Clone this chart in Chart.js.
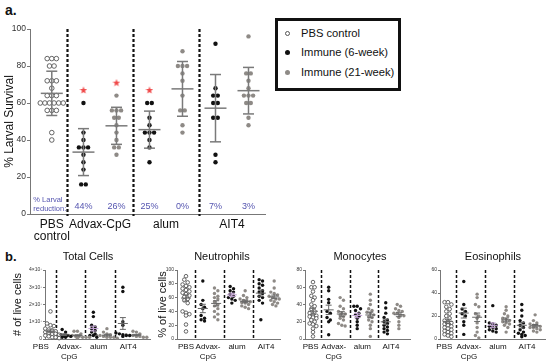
<!DOCTYPE html>
<html><head><meta charset="utf-8">
<script src="https://cdn.jsdelivr.net/npm/chart.js@4.4.1/dist/chart.umd.min.js"></script>
<style>
body{margin:0;width:550px;height:363px;position:relative;background:#fff;font-family:"Liberation Sans",Arial,sans-serif;overflow:hidden}
canvas{position:absolute}
.lbl{position:absolute;white-space:nowrap;color:#111}
.ttl{position:absolute;width:100px;text-align:center;font-size:11px;line-height:13px;color:#111}
#legend{position:absolute;left:275px;top:18px;width:120px;height:67px;border:3px solid #111}
.lrow{position:absolute;left:0;height:14px;font-size:11.2px;line-height:14px;color:#111}
.lrow i{position:absolute;left:7px;top:4.5px;width:5px;height:5px;border-radius:50%;box-sizing:border-box}
.lrow span{position:absolute;left:23px;top:0;white-space:nowrap}
</style></head><body>
<div class="lbl" style="left:5px;top:2px;font-size:14px;font-weight:bold">a.</div>
<div class="lbl" style="left:5px;top:249px;font-size:13px;font-weight:bold">b.</div>
<div id="legend"></div>
<canvas id="ca" width="270" height="262" style="left:0;top:0"></canvas>
<canvas id="cb1" width="155" height="101" style="left:0;top:262px"></canvas>
<canvas id="cb2" width="135" height="101" style="left:150px;top:262px"></canvas>
<canvas id="cb3" width="130" height="101" style="left:285px;top:262px"></canvas>
<canvas id="cb4" width="135" height="101" style="left:415px;top:262px"></canvas>
<script>
// ================= DATA =================
// Panel a: % larval survival
const aCategories = ['PBS\ncontrol', 'Advax-CpG', 'alum', 'AIT4'];
const aYTicks = [0, 20, 40, 60, 80, 100];
const aPBS     = [84,84,84,80,80,72,72,72,68,64,64,64,60,60,60,60,60,60,56,56,56,44,40];
const aAdvax6  = [60,44,40,36,36,36,32,28,24,16,16];
const aAdvax21 = [64,56,56,56,52,52,48,44,40,36,36,32];
const aAlum6   = [60,60,52,48,44,44,44,40,36,28];
const aAlum21  = [88,80,80,80,76,72,64,56,56,48,44];
const aAIT6    = [92,68,64,64,60,60,52,52,32,28];
const aAIT21   = [96,76,76,72,68,64,64,64,60,60,52,48];
const aReduction = ['44%','26%','25%','0%','7%','3%'];
const aReductionLabel = ['% Larval', 'reduction:'];
const aStarGroups = [1, 2, 3];          // group index (Advax 6wk, Advax 21wk, alum 6wk)
const aStarValues = [67, 71, 67];
const legendLabels = ['PBS control', 'Immune (6-week)', 'Immune (21-week)'];

// Panel b
const bTitles = ['Total Cells', 'Neutrophils', 'Monocytes', 'Eosinophils'];
const bCategories = ['PBS', 'Advax-\nCpG', 'alum', 'AIT4'];
const bYTitles = ['# of live cells', '% of live cells', '', ''];
const totalTicks = [0,1,2,3,4];   // ×10^7
const neutTicks = [0,20,40,60,80,100];
const monoTicks = [0,20,40,60,80];
const eosTicks = [0,20,40,60];

const tPBS     = [1.6,0.9,0.8,0.75,0.6,0.55,0.5,0.45,0.4,0.4,0.35,0.3,0.3,0.25,0.2,0.2,0.15,0.1,0.1,0.05];
const tAdvax6  = [0.55,0.4,0.3,0.25,0.2,0.2,0.15,0.1,0.1];
const tAdvax21 = [0.45,0.45,0.3,0.25,0.2,0.2,0.15,0.15,0.1,0.1,0.1,0.05];
const tAlum6   = [1.55,1.3,0.8,0.7,0.6,0.5,0.4,0.3,0.2,0.2,0.1];
const tAlum21  = [0.6,0.4,0.3,0.25,0.2,0.2,0.15,0.1,0.1,0.1,0.05];
const tAIT6    = [3.0,2.75,1.0,0.8,0.35,0.3,0.25,0.2,0.2,0.15];
const tAIT21   = [0.45,0.4,0.3,0.25,0.2,0.2,0.15,0.15,0.1,0.1];

const nPBS     = [91,86,82,79,77,75,73,71,69,67,65,63,61,58,56,52,40,38,36,34,21,11];
const nAdvax6  = [84,56,50,46,44,34,30,28,26];
const nAdvax21 = [74,70,66,62,60,58,54,50,48,44,40,36,32,28];
const nAlum6   = [76,73,70,68,65,62,60,58,56,52];
const nAlum21  = [70,63,60,58,56,55,54,53,52,50,48,46,44];
const nAIT6    = [86,84,80,78,74,70,68,66,62,60,56,52,28];
const nAIT21   = [84,74,68,66,64,62,60,58,58,56,54,52,50,48];

const mPBS     = [66,60,60,55,50,48,45,40,38,35,32,30,28,27,26,25,24,22,20,18,17,15,12,8,3];
const mAdvax6  = [60,56,46,42,32,30,25,22,20,5];
const mAdvax21 = [48,45,38,35,32,30,29,28,26,24,22,18,16,15];
const mAlum6   = [38,38,35,33,30,28,26,24,20,16,12];
const mAlum21  = [52,45,40,35,33,31,30,28,26,25,22,20,16,12,3];
const mAIT6    = [42,36,30,25,22,20,18,16,14,12,10,8,6];
const mAIT21   = [40,38,35,33,32,30,30,28,27,25,20,16,12];

const ePBS     = [32,32,30,28,26,24,22,20,18,16,15,14,13,12,11,10,9,8,7,6,5,4,3,2];
const eAdvax6  = [50,30,26,24,22,20,15,12,4];
const eAdvax21 = [39,36,30,28,22,20,18,14,10,6,3,1];
const eAlum6   = [29,14,13,12,11,10,9,8,7,6];
const eAlum21  = [28,25,22,20,18,17,16,15,14,13,12,10,6];
const eAIT6    = [30,25,20,16,14,12,10,8,6,5,4,3,2];
const eAIT21   = [21,16,14,13,12,12,11,10,10,9,8,7,6];

// ================= RENDERING =================
const FONT = '"Liberation Sans", Arial, sans-serif';
const COL = { pbsFill:'#ffffff', pbsLine:'#555555', w6:'#111111', w21:'#8e8a86', bar:'#7a7a7a', alumBar:'#c4a3d6', red:'#f04848', blue:'#5555b0', axis:'#777777' };
const KINDS = ['pbs','w6','w21','w6','w21','w6','w21'];

// legend + panel b titles
(function(){
  const lg = document.getElementById('legend');
  const tops = [5, 24, 44];
  legendLabels.forEach((t,i) => {
    const r = document.createElement('div'); r.className='lrow'; r.style.top = tops[i]+'px';
    const m = document.createElement('i');
    if (i===0){ m.style.border='1px solid '+COL.pbsLine; m.style.background='#fff'; }
    else m.style.background = i===1 ? COL.w6 : COL.w21;
    const s = document.createElement('span'); s.textContent = t;
    r.appendChild(m); r.appendChild(s); lg.appendChild(r);
  });
  const tc = [88, 222, 360, 493];
  bTitles.forEach((t,i)=>{
    const d=document.createElement('div'); d.className='ttl'; d.textContent=t;
    d.style.left=(tc[i]-50)+'px'; d.style.top='250px'; document.body.appendChild(d);
  });
})();

function swarm(values, cx, xPx, yPx, binPx, spacePx) {
  const sorted = values.slice().sort((a,b)=>b-a);
  const pts = []; let row = [];
  const flush = () => { const n=row.length; row.forEach((v,i)=>pts.push({x: cx + (i-(n-1)/2)*spacePx/xPx, y: v})); row=[]; };
  sorted.forEach(v => { if (row.length && (row[0]-v)*yPx > binPx) flush(); row.push(v); });
  flush();
  return pts;
}
function stats(v){ const n=v.length, m=v.reduce((a,b)=>a+b,0)/n; const sd=Math.sqrt(v.reduce((a,b)=>a+(b-m)*(b-m),0)/(n-1)); return {m, sd, sem: sd/Math.sqrt(n)}; }

function pointDataset(pts, kind, r) {
  const pbs = kind==='pbs';
  return { data: pts, clip:false, pointRadius: r, pointHoverRadius: r,
    backgroundColor: pbs ? COL.pbsFill : (kind==='w6'?COL.w6:COL.w21),
    borderColor: pbs ? COL.pbsLine : (kind==='w6'?COL.w6:COL.w21),
    borderWidth: pbs ? 0.9 : 0 };
}

function decor(c) {
  return {
    id: 'decor_'+c.id,
    beforeDatasetsDraw(chart) {
      const {ctx, scales:{x,y}} = chart;
      ctx.save(); ctx.strokeStyle='#111'; ctx.lineWidth=c.divWidth; ctx.setLineDash(c.divDash);
      c.dividers.forEach(d => { const px=Math.round(x.getPixelForValue(d))+0.5;
        ctx.beginPath(); ctx.moveTo(px, y.getPixelForValue(y.max)); ctx.lineTo(px, y.getPixelForValue(y.min)+c.divExtra); ctx.stroke(); });
      ctx.restore();
    },
    afterDatasetsDraw(chart) {
      const {ctx, scales:{x,y}} = chart;
      ctx.save(); ctx.setLineDash([]);
      c.bars.forEach(b => {
        const px=x.getPixelForValue(b.x), pm=y.getPixelForValue(b.mean), pl=y.getPixelForValue(b.lo), ph=y.getPixelForValue(b.hi);
        ctx.strokeStyle=b.color; ctx.lineWidth=c.barWidth;
        const seg=(x1,y1,x2,y2)=>{ctx.beginPath();ctx.moveTo(x1,y1);ctx.lineTo(x2,y2);ctx.stroke();};
        seg(px-c.barHalf,pm,px+c.barHalf,pm); seg(px,pl,px,ph);
        seg(px-c.capHalf,pl,px+c.capHalf,pl); seg(px-c.capHalf,ph,px+c.capHalf,ph);
      });
      (c.texts||[]).forEach(t => {
        ctx.fillStyle=t.color; ctx.font=t.font; ctx.textAlign=t.align; ctx.textBaseline='middle';
        ctx.fillText(t.text, x.getPixelForValue(t.x), y.getPixelForValue(t.y));
      });
      ctx.restore();
    }
  };
}

function makeChart(c) {
  return new Chart(document.getElementById(c.id), {
    type: 'scatter',
    data: { datasets: c.datasets },
    options: {
      responsive:false, animation:false, devicePixelRatio:1, events:[],
      layout:{ padding:{ top:c.padTop, right:c.padRight, left:0, bottom:0 } },
      plugins:{ legend:{display:false}, tooltip:{enabled:false} },
      scales:{
        x:{ type:'linear', min:0, max:c.xMax,
          afterBuildTicks: s => { s.ticks = c.labelPos.map(v=>({value:v})); },
          afterFit: s => { s.height = c.xHeight; },
          ticks:{ autoSkip:false, maxRotation:0, minRotation:0, padding:c.xPad, color:'#111',
                  font:{family:FONT, size:c.xFont, lineHeight:c.xLH}, callback:(v,i)=>c.labels[i] },
          grid:{ display:false, drawTicks:false, tickLength:0 },
          border:{ display:true, color:c.axisColor, width:1, dash:c.xDash||[] } },
        y:{ type:'linear', min:c.yTicks[0], max:c.yTicks[c.yTicks.length-1],
          afterBuildTicks: s => { s.ticks = c.yTicks.map(v=>({value:v})); },
          afterFit: s => { s.width = c.yWidth; },
          ticks:{ padding:1, color:'#333', font:{family:FONT, size:c.yFont}, callback:c.yFmt },
          grid:{ display:true, drawOnChartArea:false, drawTicks:true, tickLength:c.tickLen, color:c.axisColor },
          border:{ display:true, color:c.axisColor, width:1 },
          title:{ display:!!c.yTitle, text:c.yTitle, color:'#111', font:{family:FONT, size:c.yTitleSize}, padding:{top:c.yTitlePad, bottom:0} } }
      }
    },
    plugins:[decor(c)]
  });
}

// ---- star point image ----
const starImg = document.createElement('canvas'); starImg.width=8; starImg.height=8;
(function(){ const g=starImg.getContext('2d'); g.fillStyle=COL.red; g.beginPath();
  for(let i=0;i<10;i++){ const r=i%2?1.6:4, a=-Math.PI/2+i*Math.PI/5; g.lineTo(4+r*Math.cos(a),4.3+r*Math.sin(a)); }
  g.closePath(); g.fill(); })();

// ---- Panel a ----
(function(){
  const div = [0.56, 1.56, 2.56];
  const series = [aPBS, aAdvax6, aAdvax21, aAlum6, aAlum21, aAIT6, aAIT21];
  const xs = [0.33, div[0]+0.25, div[0]+0.75, div[1]+0.25, div[1]+0.75, div[2]+0.25, div[2]+0.75];
  const datasets = series.map((v,i)=>pointDataset(swarm(v, xs[i], 66, 1.85, 0.5, 4.6), KINDS[i], i===0?2.3:2.2));
  datasets.push({ data: aStarGroups.map((g,i)=>({x:xs[g], y:aStarValues[i]})), clip:false, pointStyle: starImg, pointRadius:4 });
  const bars = series.map((v,i)=>{ const s=stats(v); return {x:xs[i], mean:s.m, lo:s.m-s.sd, hi:s.m+s.sd, color:COL.bar}; });
  const texts = [
    {x:0.05, y:7.6, text:aReductionLabel[0], color:COL.blue, font:'7.5px '+FONT, align:'left'},
    {x:0.05, y:2.6, text:aReductionLabel[1], color:COL.blue, font:'7.5px '+FONT, align:'left'}
  ].concat(aReduction.map((t,i)=>({x:xs[i+1], y:3.8, text:t, color:COL.blue, font:'9px '+FONT, align:'center'})));
  makeChart({ id:'ca', datasets, bars, texts, dividers:div, divWidth:2.2, divDash:[3,2], divExtra:2,
    barWidth:1.5, barHalf:11, capHalf:5.5,
    padTop:29, padRight:5, xMax:3.56, xHeight:48, yWidth:30,
    labelPos:[0.33, 1.06, 2.06, 3.06], labels:aCategories.map(s=>s.split('\n')),
    xPad:5, xFont:12, xLH:1.0, axisColor:COL.axis,
    yTicks:aYTicks, yFont:8.5, tickLen:3, yFmt:v=>String(v),
    yTitle:'% Larval Survival', yTitleSize:12, yTitlePad:2 });
})();

// ---- Panel b ----
const bPanels = [
  { id:'cb1', series:[tPBS,tAdvax6,tAdvax21,tAlum6,tAlum21,tAIT6,tAIT21], ticks:totalTicks, yFmt:v=>v===0?'0':v+'×10⁷', pbsW:0.37, xMax:3.56, yWidth:45, pbsLabel:-0.14, titlePad:11.4, xDash:[1,1.5] },
  { id:'cb2', series:[nPBS,nAdvax6,nAdvax21,nAlum6,nAlum21,nAIT6,nAIT21], ticks:neutTicks, yFmt:v=>String(v), pbsW:0.62, xMax:3.55, yWidth:27, pbsLabel:0.31, titlePad:5.9 },
  { id:'cb3', series:[mPBS,mAdvax6,mAdvax21,mAlum6,mAlum21,mAIT6,mAIT21], ticks:monoTicks, yFmt:v=>String(v), pbsW:0.56, xMax:3.68, yWidth:20, pbsLabel:0.2, titlePad:0 },
  { id:'cb4', series:[ePBS,eAdvax6,eAdvax21,eAlum6,eAlum21,eAIT6,eAIT21], ticks:eosTicks, yFmt:v=>String(v), pbsW:0.55, xMax:3.62, yWidth:25, pbsLabel:0.15, titlePad:0 }
];
bPanels.forEach((p, k) => {
  const d = p.pbsW, div=[d, d+1, d+2];
  const xs = [d/2, d+0.27, d+0.73, d+1.27, d+1.73, d+2.27, d+2.73];
  const yMax = p.ticks[p.ticks.length-1], yPx = 69/yMax;
  const datasets = p.series.map((v,i)=>pointDataset(swarm(v, xs[i], 29, yPx, 3, 3.4), KINDS[i], i===0?1.8:1.7));
  const bars = p.series.map((v,i)=>{ const s=stats(v); return {x:xs[i], mean:s.m, lo:s.m-s.sem, hi:s.m+s.sem, color: i===3?COL.alumBar:'#666'}; });
  makeChart({ id:p.id, datasets, bars, texts:[], dividers:div, divWidth:1.5, divDash:[3,2], divExtra:0,
    barWidth:1, barHalf:5, capHalf:3,
    padTop:8, padRight:5, xMax:p.xMax, xHeight:24, yWidth:p.yWidth,
    labelPos:[p.pbsLabel, d+0.45, d+1.45, d+2.45], labels:bCategories.map(s=>s.split('\n')),
    xPad:3, xFont:8, xLH:1.2, axisColor:COL.axis, xDash:p.xDash,
    yTicks:p.ticks, yFont:5, tickLen:2, yFmt:p.yFmt,
    yTitle:bYTitles[k], yTitleSize:11, yTitlePad:p.titlePad });
});
</script>
</body></html>
